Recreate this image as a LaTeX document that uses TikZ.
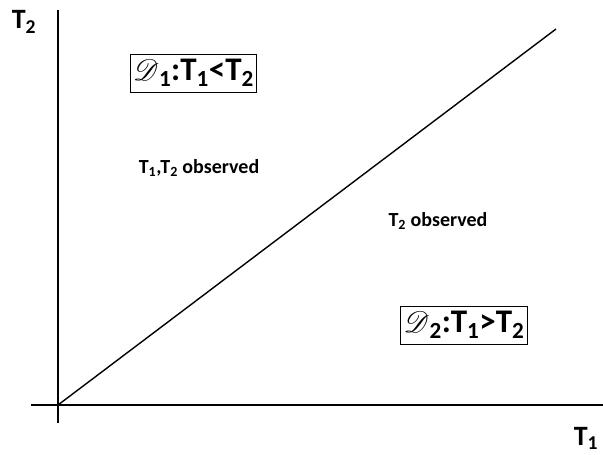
\documentclass[tikz,border=0pt]{standalone}
\usepackage{fontspec}
\usepackage{mathrsfs}
\usepackage{graphicx}
\setmainfont{Carlito}
\newcommand\scrD{\scalebox{1.2}{$\mathscr{D}$}}
\begin{document}
\begin{tikzpicture}[x=1pt,y=-1pt,
  axis/.style={line width=1.8pt,black},
  diag/.style={line width=1.4pt,black},
  region/.style={draw,line width=0.8pt,inner xsep=3pt,inner ysep=5pt,font=\bfseries\fontsize{33}{40}\selectfont},
  axislabel/.style={font=\bfseries\fontsize{28}{32}\selectfont},
  note/.style={font=\bfseries\fontsize{20}{24}\selectfont}]
\useasboundingbox (0,0) rectangle (603,455);
\coordinate (o) at (58,405);
\coordinate (ytop) at (58,10);
\coordinate (ybot) at (58,423);
\coordinate (xl) at (31,405);
\coordinate (xr) at (603,405);
\coordinate (dend) at (556,29);
\draw[axis] (ybot) -- (ytop);
\draw[axis] (xl) -- (xr);
\draw[diag] (o) -- (dend);
\node[axislabel] (t2) at (24,22) {T\textsubscript{2}};
\node[axislabel] (t1) at (586,438) {T\textsubscript{1}};
\node[region] (d1) at (193.5,73) {\scrD\textsubscript{1}:T\textsubscript{1}<T\textsubscript{2}};
\node[region] (d2) at (464,325) {\scrD\textsubscript{2}:T\textsubscript{1}>T\textsubscript{2}};
\node[note] (n1) at (199,168) {T\textsubscript{1},T\textsubscript{2} observed};
\node[note] (n2) at (438,221) {T\textsubscript{2} observed};
\end{tikzpicture}
\end{document}
